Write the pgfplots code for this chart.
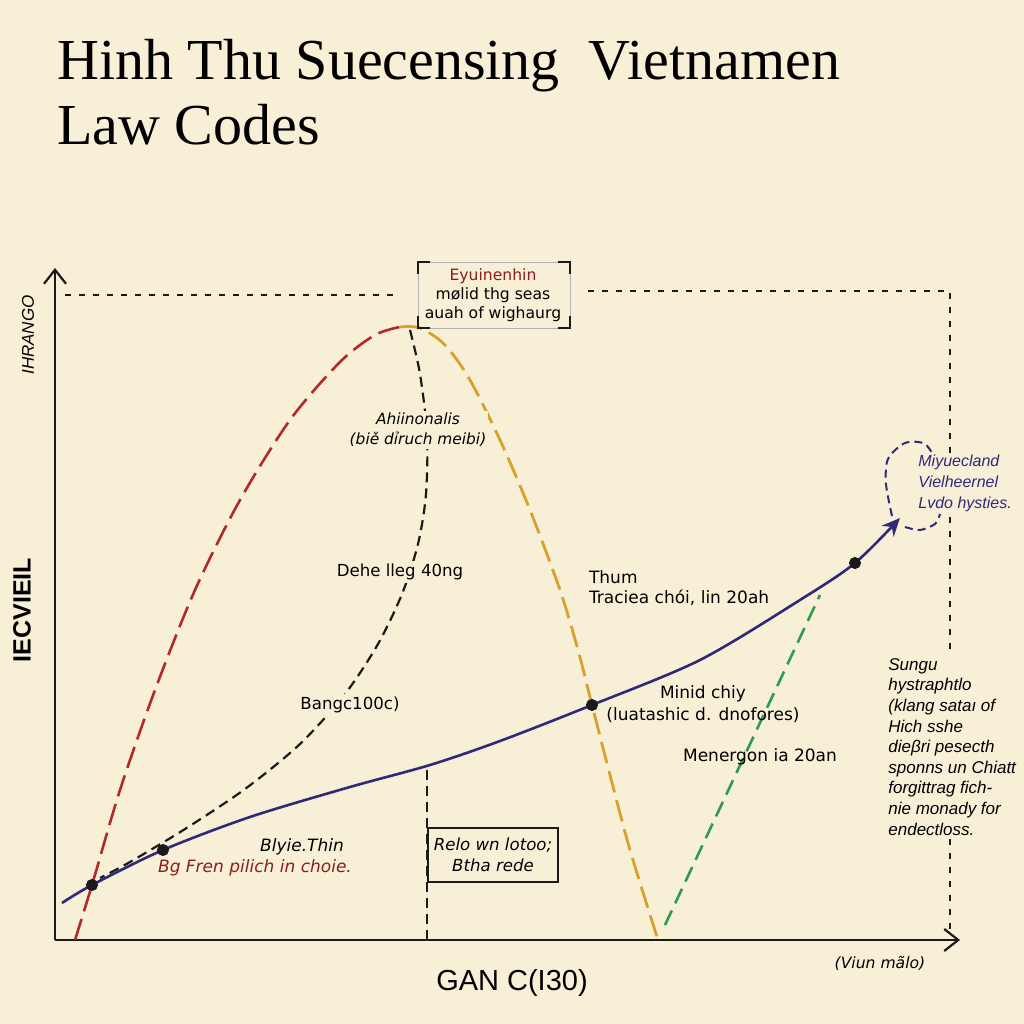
\documentclass[border=0pt]{standalone}
\usepackage{pgfplots}
\pgfplotsset{compat=1.18}
\usepackage{fontspec}
\setmainfont{Liberation Serif}
\setsansfont{Liberation Sans}
\newfontfamily\hand{DejaVu Sans}
\usetikzlibrary{arrows.meta}
\definecolor{bg}{HTML}{F7EFD6}
\definecolor{cred}{HTML}{B3282B}
\definecolor{corange}{HTML}{D9A02E}
\definecolor{cnavy}{HTML}{2E2A78}
\definecolor{cgreen}{HTML}{2F9A52}
\definecolor{dred}{HTML}{8A1E1E}
\definecolor{ink}{HTML}{1A1A1A}
\begin{document}
\begin{tikzpicture}
\useasboundingbox (-27.5pt,-42pt) rectangle (484.5pt,470pt);
\fill[bg] (-27.5pt,-42pt) rectangle (484.5pt,470pt);
\begin{axis}[scale only axis, width=452.5pt, height=336pt,
  xmin=55, xmax=960, ymin=84, ymax=756,
  axis lines=left,
  axis line style={line width=1.1pt, ink, -{Straight Barb[length=7pt,width=11pt]}},
  xtick=\empty, ytick=\empty, clip=false,
  every node/.style={text=ink}]
% red rising curve
\addplot[cred, line width=1.3pt, dash pattern=on 11pt off 4pt, smooth] coordinates {
 (75,84) (92,139) (120,234) (155,334) (195,434) (240,524) (290,604) (340,662) (375,689) (400,697)};
% orange falling curve
\addplot[corange, line width=1.4pt, dash pattern=on 11pt off 4pt, smooth] coordinates {
 (400,697) (420,696) (445,679) (470,644) (500,584) (530,514) (560,434) (578,374) (592,319) (610,249) (630,174) (658,84)};
% black dashed curve
\addplot[ink, line width=1.1pt, dash pattern=on 5pt off 3pt, smooth] coordinates {
 (410,694) (420,650) (427,590) (426,530) (418,480) (402,430) (378,380) (345,330) (300,280) (245,235) (185,195) (130,162) (100,146)};
% navy line
\addplot[cnavy, line width=1.3pt, smooth, -{Stealth[length=9pt,width=8pt]}] coordinates {
 (62,121) (92,139) (163,174) (250,207) (350,237) (430,259) (500,283) (592,319) (700,364) (800,424) (855,461) (900,506)};
% green dashed
\addplot[cgreen, line width=1.3pt, dash pattern=on 8pt off 4pt] coordinates {(665,99) (820,429)};
% reference dashed lines
\addplot[ink, line width=1.1pt, dash pattern=on 5pt off 3pt] coordinates {(427,84) (427,259)};
\addplot[ink, line width=1.1pt, dash pattern=on 3pt off 4pt] coordinates {(65,729) (395,729)};
\addplot[ink, line width=1.1pt, dash pattern=on 3pt off 4pt] coordinates {(588,733) (950,733) (950,94)};
% dots
\addplot[only marks, mark=*, mark size=2.8pt, ink] coordinates {(92,139) (163,174) (592,319) (855,461)};
% bracket box
\draw[gray!60, line width=0.4pt] (418,696) rectangle (570,762);
\draw[ink, line width=1.1pt] (430,762) -- (418,762) -- (418,750);
\draw[ink, line width=1.1pt] (558,762) -- (570,762) -- (570,750);
\draw[ink, line width=1.1pt] (418,708) -- (418,696) -- (430,696);
\draw[ink, line width=1.1pt] (570,708) -- (570,696) -- (558,696);
\node[align=center, font=\hand\fontsize{7.8}{9.5}\selectfont] at (493,729)
 {\textcolor{dred}{Eyuinenhin}\\mølid thg seas\\auah of wighaurg};
% lower box
\draw[ink, line width=0.9pt, fill=bg] (428,142) rectangle (558,196);
\node[align=center, font=\hand\itshape\fontsize{8.3}{10.5}\selectfont] at (493,169)
 {Relo wn lotoo;\\Btha rede};
% blob
\draw[cnavy, line width=1pt, dash pattern=on 4pt off 2.5pt] plot[smooth] coordinates {(892,508) (886,540) (888,565) (905,581) (925,580) (937,562)};
\draw[cnavy, line width=1pt, dash pattern=on 4pt off 2.5pt] plot[smooth] coordinates {(905,497) (920,494) (935,500) (940,510)};
\node[anchor=west, align=left, fill=bg, inner sep=1pt, text=cnavy, font=\sffamily\itshape\fontsize{8}{10.5}\selectfont] at (916,541)
 {Miyuecland\\Vielheernel\\Lvdo hysties.};
% labels
\node[align=center, fill=bg, inner sep=1pt, font=\hand\itshape\fontsize{7.7}{10}\selectfont] at (418,594)
 {Ahiinonalis\\(biě dỉruch meibi)};
\node[fill=bg, inner sep=1.5pt, font=\hand\fontsize{8.3}{10}\selectfont] at (400,452) {Dehe lleg 40ng};
\node[anchor=west, font=\hand\fontsize{8.5}{10}\selectfont] at (582,447) {Thum};
\node[anchor=west, font=\hand\fontsize{8.5}{10}\selectfont] at (582,426) {Tracieа chói, lin 20ah};
\node[fill=bg, inner sep=1.5pt, font=\hand\fontsize{8.3}{10}\selectfont] at (350,319) {Bangc100c)};
\node[align=center, font=\hand\fontsize{8.5}{10.8}\selectfont] at (703,320)
 {Minid chiy\\(luatashic d. dnofores)};
\node[font=\hand\fontsize{8.5}{10}\selectfont] at (760,267) {Menergon ia 20an};
\node[font=\hand\itshape\fontsize{8.5}{10}\selectfont] at (302,177) {Blyie.Thin};
\node[text=dred, font=\hand\itshape\fontsize{8.5}{10}\selectfont] at (255,156) {Bg Fren pilich in choie.};
\node[anchor=north west, align=left, fill=bg, inner sep=1pt, font=\sffamily\itshape\fontsize{8.5}{10.3}\selectfont] at (886,368)
 {Sungu\\hystraphtlo\\(klang sataı of\\Hich sshe\\dieβri pesecth\\sponns un Chiatt\\forgittrag fich-\\nie monady for\\endectloss.};
\node[font=\sffamily\fontsize{14.5}{16}\selectfont] at (512,41) {GAN C(I30)};
\node[font=\hand\itshape\fontsize{7.8}{9}\selectfont] at (880,61) {(Viun mãlo)};
\node[rotate=90, font=\sffamily\bfseries\fontsize{12.5}{14}\selectfont] at (22,414) {IECVIEIL};
\node[rotate=90, font=\sffamily\itshape\fontsize{8.5}{10}\selectfont] at (28,689) {IHRANGO};
% title
\node[anchor=base west, inner sep=0pt, font=\fontsize{29}{34}\selectfont] at (57,944) {Hinh Thu Suecensing\ \ Vietnamen};
\node[anchor=base west, inner sep=0pt, font=\fontsize{29}{34}\selectfont] at (57,879) {Law Codes};
\end{axis}
\end{tikzpicture}
\end{document}
